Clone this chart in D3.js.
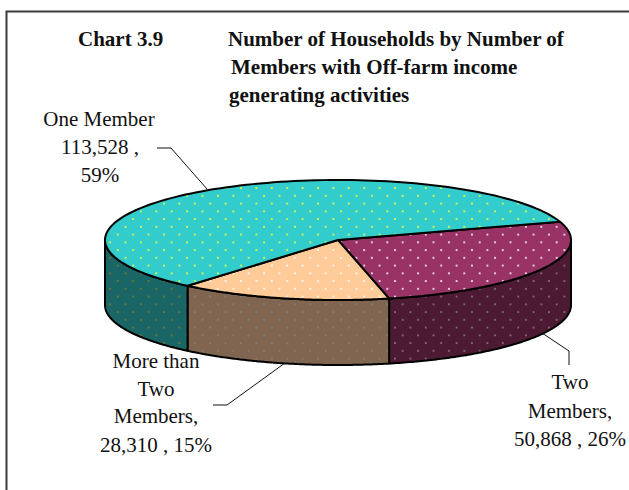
<!DOCTYPE html>
<html>
<head>
<meta charset="utf-8">
<script src="https://cdn.jsdelivr.net/npm/d3@7"></script>
<style>
  html, body { margin: 0; padding: 0; background: #fff; }
  svg { display: block; }
  text { font-family: "Liberation Serif", serif; fill: #111; }
</style>
</head>
<body>
<svg id="chart" width="629" height="490"></svg>
<script>
// values, in drawing order (clockwise from the right of the pie)
const categories = ["Two Members", "More than Two Members", "One Member"];
const households = [50868, 28310, 113528];

const titleLines = [
  ["Chart 3.9", 78, 46],
  ["Number of Households by Number of", 228, 46],
  ["Members with Off-farm income", 231, 74],
  ["generating activities", 229, 102]
];

const labelLines = [
  ["One Member", 99, 126], ["113,528 ,", 100, 154], ["59%", 100, 182],
  ["More than", 156, 368], ["Two", 156, 396], ["Members,", 156, 423], ["28,310 , 15%", 156, 452],
  ["Two", 570, 389], ["Members,", 570, 418], ["50,868 , 26%", 570, 446]
];

const leaders = [
  [[157, 148], [171, 148], [207, 189]],
  [[213, 405], [227, 405], [285, 363]],
  [[542, 333], [569, 351], [569, 365]]
];

const w = 629;
const h = 490;
const cx = 338;
const cy = 240;
const rx = 233;
const ry = 60;
const depth = 65;
const startAngle = 72.3 * Math.PI / 180;

const topColor = d3.scaleOrdinal().domain(categories).range(["#993366", "#ffcc99", "#33cccc"]);
const wallColor = d3.scaleOrdinal().domain(categories).range(["#4d1a33", "#806650", "#1a6666"]);
const topDot = d3.scaleOrdinal().domain(categories).range(["#ffffff", "#ffffff", "#ffff33"]);
const wallDot = d3.scaleOrdinal().domain(categories).range(["#8a7a82", "#85807c", "#808020"]);

const svg = d3.select("#chart");
const defs = svg.append("defs");

// dotted fill, same grid on every slice
function addPattern(id, bg, dot) {
  const p = defs.append("pattern")
    .attr("id", id)
    .attr("patternUnits", "userSpaceOnUse")
    .attr("x", 156.3 - 3.85)
    .attr("y", 211.3 - 3.85)
    .attr("width", 15.4)
    .attr("height", 15.5);
  p.append("rect").attr("width", 15.4).attr("height", 15.5).attr("fill", bg);
  p.append("circle").attr("cx", 3.85).attr("cy", 3.85).attr("r", 1).attr("fill", dot);
  p.append("circle").attr("cx", 11.55).attr("cy", 11.6).attr("r", 1).attr("fill", dot);
}

categories.forEach((c, i) => {
  addPattern("top" + i, topColor(c), topDot(c));
  addPattern("wall" + i, wallColor(c), wallDot(c));
});

const pie = d3.pie()
  .sort(null)
  .startAngle(startAngle)
  .endAngle(startAngle + 2 * Math.PI);
const slices = pie(households);

// angle on the tilted disc -> screen
const px = a => cx + rx * Math.sin(a);
const py = a => cy - ry * Math.cos(a);
const line = d3.line();

function rim(a0, a1) {
  return d3.range(0, 121).map(i => {
    const a = a0 + (a1 - a0) * i / 120;
    return [px(a), py(a)];
  });
}

// frame, only left and top show in the picture
svg.append("path")
  .attr("d", line([[6.5, h], [6.5, 11.5], [w, 11.5]]))
  .attr("fill", "none")
  .attr("stroke", "#3c3c3c")
  .attr("stroke-width", 2);

// side walls, only the front half of the disc
svg.append("g").selectAll("path")
  .data(slices.filter(d => d.startAngle < 1.5 * Math.PI && d.endAngle > 0.5 * Math.PI))
  .enter()
  .append("path")
  .attr("d", d => {
    const upper = rim(Math.max(d.startAngle, 0.5 * Math.PI), Math.min(d.endAngle, 1.5 * Math.PI));
    const lower = upper.map(p => [p[0], p[1] + depth]).reverse();
    return line(upper.concat(lower)) + "Z";
  })
  .attr("fill", d => `url(#wall${d.index})`)
  .attr("stroke", "#000")
  .attr("stroke-width", 2)
  .attr("stroke-linejoin", "round");

// top face
svg.append("g").selectAll("path")
  .data(slices)
  .enter()
  .append("path")
  .attr("d", d => line([[cx, cy]].concat(rim(d.startAngle, d.endAngle))) + "Z")
  .attr("fill", d => `url(#top${d.index})`)
  .attr("stroke", "#000")
  .attr("stroke-width", 2)
  .attr("stroke-linejoin", "round");

svg.append("g").selectAll("path")
  .data(leaders)
  .enter()
  .append("path")
  .attr("d", d => line(d))
  .attr("fill", "none")
  .attr("stroke", "#111")
  .attr("stroke-width", 1);

svg.append("g").selectAll("text")
  .data(titleLines)
  .enter()
  .append("text")
  .attr("x", d => d[1])
  .attr("y", d => d[2])
  .attr("font-size", 21)
  .attr("font-weight", "bold")
  .text(d => d[0]);

svg.append("g").selectAll("text")
  .data(labelLines)
  .enter()
  .append("text")
  .attr("x", d => d[1])
  .attr("y", d => d[2])
  .attr("font-size", 21)
  .attr("text-anchor", "middle")
  .text(d => d[0]);
</script>
</body>
</html>
